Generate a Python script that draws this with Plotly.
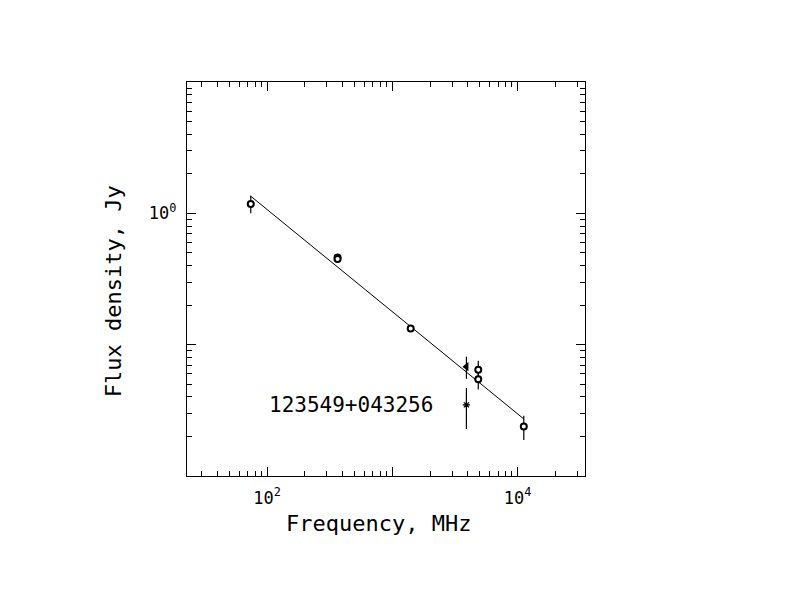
import plotly.graph_objects as go

# measured points (MHz, Jy)
circ_freq = [74, 365, 365, 1400, 4850, 4850, 11200]
circ_flux = [1.18, 0.462, 0.450, 0.133, 0.0645, 0.0546, 0.0238]
circ_err = [0.18, 0.0, 0.0, 0.0, 0.011, 0.009, 0.005]

tri_freq = [3900]
tri_flux = [0.068]
tri_err = [0.013]

star_freq = [3900]
star_flux = [0.0348]
star_err = [0.012]

# power-law fit line
fit_freq = [74, 11200]
fit_flux = [1.35, 0.0272]

source_name = "123549+043256"

x_major = [10, 100, 1000, 10000]
x_labels = ["", "10<sup>2</sup>", "", "10<sup>4</sup>"]
y_major = [0.01, 0.1, 1, 10]
y_labels = ["", "", "10<sup>0</sup>", ""]

mantissas = [2, 3, 4, 5, 6, 7, 8, 9]
x_minor = [m * d for d in [10, 100, 1000, 10000] for m in mantissas]
y_minor = [m * d for d in [0.01, 0.1, 1] for m in mantissas]

FONT = "DejaVu Sans Mono"

fig = go.Figure()

fig.add_trace(go.Scatter(
    x=fit_freq, y=fit_flux, mode="lines",
    line=dict(color="black", width=1), hoverinfo="skip"
))

fig.add_trace(go.Scatter(
    x=circ_freq, y=circ_flux, mode="markers",
    marker=dict(symbol="circle", size=6, color="white",
                line=dict(color="black", width=2)),
    error_y=dict(type="data", array=circ_err, width=0, thickness=1.2, color="black")
))

fig.add_trace(go.Scatter(
    x=tri_freq, y=tri_flux, mode="markers",
    marker=dict(symbol="triangle-left", size=8, color="black"),
    error_y=dict(type="data", array=tri_err, width=0, thickness=1.2, color="black")
))

fig.add_trace(go.Scatter(
    x=star_freq, y=star_flux, mode="markers",
    marker=dict(symbol="asterisk-open", size=6, color="black",
                line=dict(color="black", width=1.2)),
    error_y=dict(type="data", array=star_err, width=0, thickness=1.2, color="black")
))

fig.add_annotation(
    x=2.0, y=-1.456, xref="x", yref="y", text=source_name,
    showarrow=False, xanchor="left", yanchor="middle",
    font=dict(family=FONT, size=21, color="black")
)

# axis titles
fig.add_annotation(
    x=0.48, y=-0.12, xref="paper", yref="paper", text="Frequency, MHz",
    showarrow=False, xanchor="center", yanchor="middle",
    font=dict(family=FONT, size=22, color="black")
)
fig.add_annotation(
    x=-0.185, y=0.47, xref="paper", yref="paper", text="Flux density, Jy",
    showarrow=False, xanchor="center", yanchor="middle", textangle=-90,
    font=dict(family=FONT, size=22, color="black")
)

axis_common = dict(
    type="log", showline=True, linecolor="black", linewidth=1.3, mirror="ticks",
    ticks="inside", ticklen=9, tickwidth=1.2, tickcolor="black",
    showgrid=False, zeroline=False, tickmode="array",
    tickfont=dict(family=FONT, size=17, color="black"),
)

fig.update_xaxes(
    **axis_common, range=[1.36, 4.538],
    tickvals=x_major, ticktext=x_labels, ticklabelstandoff=6,
    minor=dict(ticks="inside", ticklen=5, tickwidth=1.2, tickcolor="black",
               tickmode="array", tickvals=x_minor, showgrid=False)
)
fig.update_yaxes(
    **axis_common, range=[-2.0, 1.0],
    tickvals=y_major, ticktext=y_labels, ticklabelstandoff=6,
    minor=dict(ticks="inside", ticklen=5, tickwidth=1.2, tickcolor="black",
               tickmode="array", tickvals=y_minor, showgrid=False)
)

# page body adds ~7px offset, so margins are shifted to compensate
fig.update_layout(
    width=792, height=612,
    margin=dict(l=179, r=215, t=74, b=144),
    paper_bgcolor="white", plot_bgcolor="white",
    showlegend=False,
    font=dict(family=FONT, color="black"),
)

fig.write_html("out.html")
